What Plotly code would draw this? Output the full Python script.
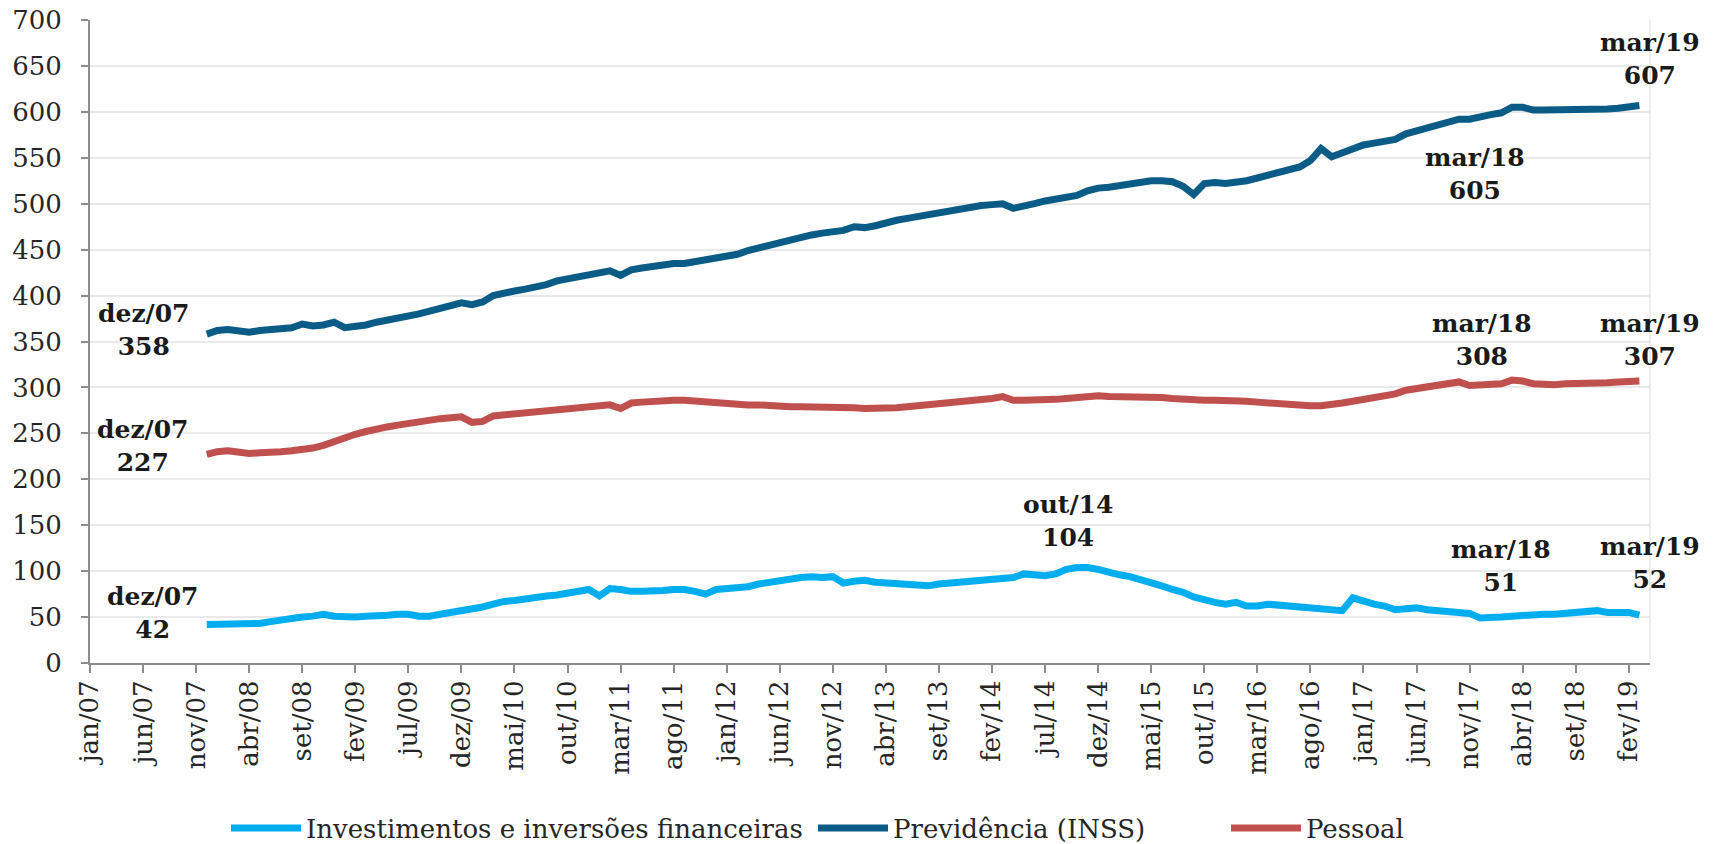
import plotly.graph_objects as go

# ---------------- data ----------------
MESES = ["jan", "fev", "mar", "abr", "mai", "jun", "jul", "ago", "set", "out", "nov", "dez"]
ANOS = ["07", "08", "09", "10", "11", "12", "13", "14", "15", "16", "17", "18", "19"]
ALL_MONTHS = [f"{m}/{a}" for a in ANOS for m in MESES]

TICK_LABELS = ["jan/07", "jun/07", "nov/07", "abr/08", "set/08", "fev/09", "jul/09", "dez/09",
               "mai/10", "out/10", "mar/11", "ago/11", "jan/12", "jun/12", "nov/12", "abr/13",
               "set/13", "fev/14", "jul/14", "dez/14", "mai/15", "out/15", "mar/16", "ago/16",
               "jan/17", "jun/17", "nov/17", "abr/18", "set/18", "fev/19"]

INICIO = "dez/07"  # first month of the series (monthly data up to mar/19)

previdencia = [
    358,
    362, 363, 362, 360, 362, 363, 364, 365, 369, 367, 368, 371,
    365, 366, 368, 371, 373, 375, 377, 380, 383, 386, 389, 392,
    390, 393, 400, 403, 405, 407, 409, 412, 416, 418, 420, 423,
    425, 427, 422, 428, 430, 432, 433, 435, 435, 437, 439, 441,
    443, 445, 449, 452, 455, 458, 461, 464, 466, 468, 470, 471,
    475, 474, 476, 480, 482, 484, 486, 488, 491, 493, 495, 497,
    498, 499, 500, 495, 497, 500, 503, 505, 507, 509, 514, 517,
    518, 520, 522, 524, 525, 525, 524, 519, 510, 522, 523, 522,
    523, 525, 528, 531, 534, 537, 540, 547, 560, 551, 556, 561,
    564, 566, 568, 570, 576, 579, 582, 586, 589, 592, 592, 595,
    597, 599, 605, 605, 602, 602, 602, 602, 603, 602, 602, 603,
    604, 605, 607,
]

pessoal = [
    227,
    230, 231, 229, 228, 229, 229, 230, 231, 232, 234, 237, 241,
    246, 249, 252, 255, 257, 259, 261, 262, 264, 266, 267, 268,
    262, 263, 269, 270, 271, 272, 273, 274, 276, 277, 278, 279,
    280, 281, 277, 283, 284, 285, 286, 286, 286, 285, 285, 284,
    283, 282, 281, 281, 280, 280, 279, 279, 279, 279, 279, 278,
    278, 277, 277, 277, 278, 279, 280, 281, 282, 283, 284, 285,
    286, 288, 290, 286, 286, 286, 287, 287, 288, 289, 290, 291,
    290, 290, 290, 289, 289, 289, 288, 287, 287, 286, 286, 286,
    285, 285, 284, 283, 282, 281, 281, 280, 280, 281, 283, 285,
    287, 289, 290, 293, 297, 299, 301, 303, 305, 306, 302, 303,
    303, 304, 308, 307, 304, 303, 303, 304, 304, 304, 305, 305,
    306, 306, 307,
]

investimentos = [
    42,
    42, 42, 42, 42, 43, 45, 47, 48, 50, 51, 53, 51,
    50, 50, 51, 51, 52, 53, 53, 51, 51, 53, 55, 56,
    58, 61, 64, 67, 68, 70, 71, 73, 74, 76, 79, 80,
    73, 81, 80, 78, 78, 78, 79, 80, 80, 78, 75, 80,
    81, 81, 83, 86, 88, 90, 92, 93, 94, 93, 94, 87,
    89, 90, 88, 87, 86, 85, 84, 84, 86, 87, 88, 88,
    89, 90, 91, 93, 97, 96, 95, 97, 102, 104, 104, 102,
    98, 96, 94, 91, 88, 84, 80, 77, 72, 68, 66, 64,
    66, 62, 62, 64, 63, 62, 61, 60, 59, 57, 57, 71,
    67, 64, 62, 58, 59, 60, 58, 57, 56, 56, 54, 49,
    49, 50, 51, 52, 52, 53, 53, 54, 55, 56, 57, 55,
    55, 55, 52,
]

SERIES = [
    ("Investimentos e inversões financeiras", investimentos, "#00AEEF", "legend"),
    ("Previdência (INSS)", previdencia, "#0B5B87", "legend2"),
    ("Pessoal", pessoal, "#C0504D", "legend3"),
]

# labels: (series values, month, text, xshift, yshift)
ANNOTS = [
    (previdencia, "dez/07", "dez/07<br>358", -63, 4),
    (pessoal, "dez/07", "dez/07<br>227", -64, 8),
    (investimentos, "dez/07", "dez/07<br>42", -54, 11),
    (investimentos, "out/14", "out/14<br>104", -9, 46),
    (previdencia, "mar/18", "mar/18<br>605", -37, -67),
    (previdencia, "mar/19", "mar/19<br>607", 11, 46),
    (pessoal, "mar/18", "mar/18<br>308", -30, 40),
    (pessoal, "mar/19", "mar/19<br>307", 11, 41),
    (investimentos, "mar/18", "mar/18<br>51", -11, 50),
    (investimentos, "mar/19", "mar/19<br>52", 11, 52),
]

# ---------------- figure ----------------
start = ALL_MONTHS.index(INICIO)
FONT = "DejaVu Serif"

fig = go.Figure()
for name, vals, color, leg in SERIES:
    xs = list(range(start, start + len(vals)))
    fig.add_trace(go.Scatter(
        x=xs, y=vals, mode="lines", name=name, legend=leg,
        line=dict(color=color, width=7),
        hovertext=[ALL_MONTHS[i] for i in xs],
    ))

for vals, month, text, dx, dy in ANNOTS:
    xi = ALL_MONTHS.index(month)
    fig.add_annotation(
        x=xi, y=vals[xi - start], xref="x", yref="y", text=f"<b>{text}</b>",
        showarrow=False, xshift=dx, yshift=dy,
        font=dict(family=FONT, size=25, color="#1a1a1a"),
        xanchor="center", yanchor="middle", align="center",
    )

tickvals = [ALL_MONTHS.index(t) for t in TICK_LABELS]

legend_common = dict(xref="container", yref="container", y=1 - 828 / 844,
                     xanchor="left", yanchor="middle", orientation="h", itemwidth=70,
                     font=dict(family=FONT, size=26, color="#262626"),
                     bgcolor="rgba(0,0,0,0)")

fig.update_layout(
    width=1719, height=844,
    margin=dict(l=90, r=69, t=20, b=181, autoexpand=False),
    paper_bgcolor="white", plot_bgcolor="white",
    font=dict(family=FONT, size=26, color="#262626"),
    xaxis=dict(
        range=[0, 147], tickmode="array", tickvals=tickvals, ticktext=TICK_LABELS,
        tickangle=-90, showgrid=False, zeroline=False,
        showline=True, linecolor="#8c8c8c", linewidth=2,
        ticks="outside", ticklen=8, tickwidth=2, tickcolor="#8c8c8c",
        tickfont=dict(family=FONT, size=26, color="#262626"),
        ticklabelstandoff=-3, ticklabeloverflow="allow",
    ),
    yaxis=dict(
        range=[0, 700], dtick=50, tick0=0,
        showgrid=True, gridcolor="#e9e9e9", gridwidth=2, zeroline=False,
        showline=True, linecolor="#8c8c8c", linewidth=2,
        ticks="outside", ticklen=7, tickwidth=2, tickcolor="#8c8c8c",
        tickfont=dict(family=FONT, size=26, color="#262626"),
        ticklabelstandoff=14, ticklabeloverflow="allow",
    ),
    showlegend=True,
    legend=dict(x=226 / 1719, **legend_common),
    legend2=dict(x=813 / 1719, **legend_common),
    legend3=dict(x=1226 / 1719, **legend_common),
    shapes=[dict(type="line", xref="paper", yref="paper", x0=1, x1=1, y0=0, y1=1,
                 line=dict(color="#ededed", width=2), layer="below")],
)

fig.write_html("out.html", config={"displayModeBar": False},
               post_script="document.body.style.margin='0';")
